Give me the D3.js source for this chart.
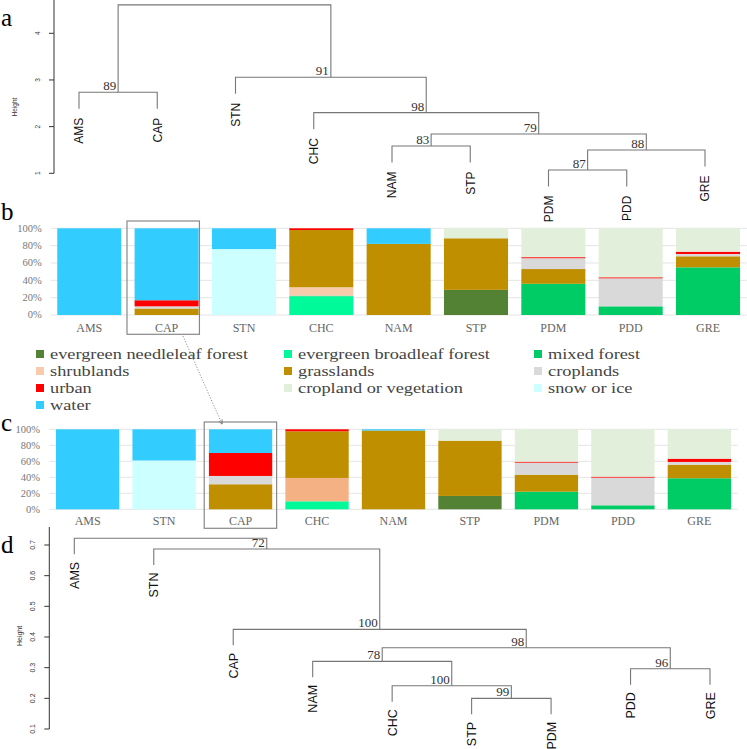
<!DOCTYPE html>
<html><head><meta charset="utf-8">
<script src="https://cdn.jsdelivr.net/npm/d3@7"></script>
<style>body{margin:0;background:#fff}svg{display:block}</style>
</head><body>
<svg id="chart" width="747" height="749"></svg>
<script>
// ---------------- DATA ----------------
const leavesA = ["AMS","CAP","STN","CHC","NAM","STP","PDM","PDD","GRE"];
// [left child, right child, height, bootstrap]; strings = leaves, numbers = earlier merge index
const mergesA = [
  ["PDM","PDD",1.07,"87"],
  [0,"GRE",1.50,"88"],
  ["NAM","STP",1.585,"83"],
  [2,1,1.842,"79"],
  ["CHC",3,2.30,"98"],
  ["AMS","CAP",2.736,"89"],
  ["STN",4,3.057,"91"],
  [5,6,4.61,null]
];
const ticksA = [1,2,3,4,5];

const leavesD = ["AMS","STN","CAP","NAM","CHC","STP","PDM","PDD","GRE"];
const mergesD = [
  ["STP","PDM",0.200,"99"],
  ["CHC",0,0.241,"100"],
  ["NAM",1,0.3206,"78"],
  ["PDD","GRE",0.2967,"96"],
  [2,3,0.365,"98"],
  ["CAP",4,0.425,"100"],
  ["STN",5,0.687,"72"],
  ["AMS",6,0.7218,null]
];
const ticksD = [0.1,0.2,0.3,0.4,0.5,0.6,0.7];

const classes = ["evergreen needleleaf forest","evergreen broadleaf forest","mixed forest",
  "shrublands","grasslands","croplands","urban","cropland or vegetation","snow or ice","water"];
const classColors = ["#548235","#00FA9A","#00CC66","#F8CBAD","#BF8F00","#D9D9D9","#FF0000","#E2EFDA","#CCFFFF","#33CCFF"];
const classColorsC = ["#548235","#00FA9A","#00CC66","#F4B183","#BF8F00","#D9D9D9","#FF0000","#E2EFDA","#CCFFFF","#33CCFF"];

const catsB = ["AMS","CAP","STN","CHC","NAM","STP","PDM","PDD","GRE"];
const compB = [
  [0,0,0,0,0,0,0,0,0,100],
  [0,0,0,0,7.5,2.5,7,0,0,83],
  [0,0,0,0,0,0,0,0,76,24],
  [0,21.5,0.8,9.7,66,0,2,0,0,0],
  [0,0,0,0,82,0,0,0,0,18],
  [29,0,0,0,59.5,0,0,11.5,0,0],
  [0,0,36,0,17,12.5,1.2,33.3,0,0],
  [0,0,10,0,0,32.3,1.2,56.5,0,0],
  [0,0,55,0,12.7,2.7,2.6,27,0,0]
];
const catsC = ["AMS","STN","CAP","CHC","NAM","STP","PDM","PDD","GRE"];
const compC = [
  [0,0,0,0,0,0,0,0,0,100],
  [0,0,0,0,0,0,0,0,61,39],
  [0,0,0,0,31.3,10.4,28.7,0,0,29.6],
  [0,10,0,29.2,58.3,0,2.5,0,0,0],
  [0,0,0,0,98.5,0,0,0,0,1.5],
  [16.7,0,0,0,69.1,0,0,14.2,0,0],
  [0,0,22,0,21.3,15,1.2,40.5,0,0],
  [0,0,5,0,0,34.6,1.2,59.2,0,0],
  [0,0,38.8,0,17,3.4,4.1,36.7,0,0]
];
const pctTicks = [0,20,40,60,80,100];
const highlight = "CAP";

// ---------------- DRAW ----------------
const svg = d3.select("#chart");
const SERIF = "Liberation Serif, Times New Roman, serif";
const SANS = "Liberation Sans, Arial, sans-serif";
const LINE = "#777";

function panelLetter(t, x, y) {
  svg.append("text").attr("x", x).attr("y", y).text(t)
    .attr("font-family", SERIF).attr("font-size", 25).attr("fill", "#000");
}

function drawDendro(leaves, merges, x, y, o) {
  const g = svg.append("g");
  const hs = merges.map(m => m[2]);
  const hang = 0.1 * (d3.max(hs) - d3.min(hs));
  const pos = [];
  const info = (c, h) => typeof c === "string"
    ? {x: x(c), b: h - hang, leaf: c}
    : {x: pos[c].x, b: merges[c][2]};
  merges.forEach((m, i) => {
    const h = m[2];
    const L = info(m[0], h), R = info(m[1], h);
    pos[i] = {x: (L.x + R.x) / 2};
    g.append("path")
      .attr("d", `M${L.x},${y(L.b)}V${y(h)}H${R.x}V${y(R.b)}`)
      .attr("fill", "none").attr("stroke", LINE).attr("stroke-width", 1.1);
    [L, R].forEach(c => {
      if (c.leaf) {
        g.append("text")
          .attr("transform", `translate(${c.x},${y(c.b) + o.gap}) rotate(-90)`)
          .attr("text-anchor", "end").attr("dy", "0.36em")
          .attr("font-family", SANS).attr("font-size", o.leafSize).attr("fill", "#111")
          .text(c.leaf);
      }
    });
    if (m[3]) {
      g.append("text").attr("x", pos[i].x - 2).attr("y", y(h) - 2)
        .attr("text-anchor", "end").attr("font-family", SERIF)
        .attr("font-size", o.bootSize).attr("fill", "#333").text(m[3]);
    }
  });
  // axis
  const ax = o.axisX;
  g.append("line").attr("x1", ax).attr("x2", ax)
    .attr("y1", y(o.ticks[0])).attr("y2", Math.max(y(o.axisTop), o.clipTop))
    .attr("stroke", "#333").attr("stroke-width", 1);
  o.ticks.forEach(t => {
    const yy = y(t);
    if (yy < o.clipTop) return;
    g.append("line").attr("x1", ax).attr("x2", ax - 5).attr("y1", yy).attr("y2", yy)
      .attr("stroke", "#333");
    g.append("text").attr("transform", `translate(${ax - 14},${yy}) rotate(-90)`)
      .attr("text-anchor", "middle").attr("font-family", SANS)
      .attr("font-size", o.tickSize).attr("fill", "#333").text(t);
  });
  g.append("text").attr("transform", `translate(${o.titleX},${o.titleY}) rotate(-90)`)
    .attr("text-anchor", "middle").attr("font-family", SANS)
    .attr("font-size", o.tickSize).attr("fill", "#333").text("Height");
}

// Panel a
const xA = d3.scalePoint().domain(leavesA).range([79, 705]);
const yA = d3.scaleLinear().domain([1, 4]).range([173.3, 33.3]);
drawDendro(leavesA, mergesA, xA, yA, {gap: 9, leafSize: 12, bootSize: 13, axisX: 54,
  ticks: ticksA, axisTop: 5, clipTop: 0, tickSize: 6.5, titleX: 17, titleY: 107});
panelLetter("a", 1, 26);

// Bar panels
function drawBars(cats, comp, colors, x0, x1, yTop, yBot, labelY, tickX, box) {
  const g = svg.append("g");
  const x = d3.scaleBand().domain(cats).range([x0, x1]).paddingInner(0.172).paddingOuter(0.086);
  const y = d3.scaleLinear().domain([0, 100]).range([yBot, yTop]);
  pctTicks.forEach(t => {
    g.append("line").attr("x1", x0).attr("x2", x1).attr("y1", y(t)).attr("y2", y(t))
      .attr("stroke", "#e4e4e4").attr("stroke-width", 1);
    g.append("text").attr("x", tickX).attr("y", y(t)).attr("dy", "0.33em")
      .attr("text-anchor", "end").attr("font-family", SERIF).attr("font-size", 10.5)
      .attr("fill", "#777").text(t + "%");
  });
  const rows = cats.map((c, i) => {
    const r = {cat: c};
    classes.forEach((k, j) => r[k] = comp[i][j]);
    return r;
  });
  const series = d3.stack().keys(classes)(rows);
  series.forEach((s, j) => {
    g.selectAll(null).data(s.filter(d => d[1] - d[0] > 0)).join("rect")
      .attr("x", d => x(d.data.cat)).attr("width", x.bandwidth())
      .attr("y", d => y(d[1])).attr("height", d => y(d[0]) - y(d[1]))
      .attr("fill", colors[j]);
  });
  cats.forEach(c => {
    g.append("text").attr("x", x(c) + x.bandwidth() / 2).attr("y", labelY)
      .attr("text-anchor", "middle").attr("font-family", SERIF).attr("font-size", 12)
      .attr("fill", "#666").text(c);
  });
  const bx = x(highlight);
  g.append("rect").attr("x", bx - box.l).attr("y", box.t)
    .attr("width", x.bandwidth() + box.l + box.r).attr("height", box.b - box.t)
    .attr("fill", "none").attr("stroke", "#888").attr("stroke-width", 1.2);
  return {x, y};
}
const B = drawBars(catsB, compB, classColors, 50.6, 746.7, 228.3, 315, 332, 41.7, {l: 7.6, r: 0.8, t: 221, b: 334.3});
panelLetter("b", 1, 220);

// Legend
const legCols = [36, 284, 534];
const legRows = [354, 371, 388, 405];
const legTexts = [];
classes.forEach((k, i) => {
  const cx = legCols[i % 3], cy = legRows[Math.floor(i / 3)];
  svg.append("rect").attr("x", cx).attr("y", cy - 4).attr("width", 8).attr("height", 8)
    .attr("fill", classColors[i]);
  legTexts.push(svg.append("text").attr("x", cx + 14).attr("y", cy).attr("dy", "0.32em")
    .attr("font-family", SERIF).attr("font-size", 14.5).attr("fill", "#444").text(k));
});
// condense/stretch legend glyphs so the first label spans ~198px as in the reference
const refLen = legTexts[0].node().getComputedTextLength();
const k = 198 / refLen;
legTexts.forEach(t => {
  const l = t.node().getComputedTextLength();
  t.attr("textLength", l * k).attr("lengthAdjust", "spacingAndGlyphs");
});

const C = drawBars(catsC, compC, classColorsC, 49.4, 737.6, 429.3, 509.3, 525, 40, {l: 4.7, r: 4.4, t: 422, b: 528.3});
panelLetter("c", 1, 431);

// Arrow between highlighted boxes
const defs = svg.append("defs");
defs.append("marker").attr("id", "arr").attr("viewBox", "0 0 10 10").attr("refX", 9).attr("refY", 5)
  .attr("markerWidth", 6).attr("markerHeight", 6).attr("orient", "auto")
  .append("path").attr("d", "M0,1L10,5L0,9").attr("fill", "none").attr("stroke", "#666").attr("stroke-width", 1.5);
svg.append("line").attr("x1", 183).attr("y1", 336).attr("x2", 222).attr("y2", 424)
  .attr("stroke", "#777").attr("stroke-width", 0.8).attr("stroke-dasharray", "1.2,1.6")
  .attr("marker-end", "url(#arr)");

// Panel d
const xD = d3.scalePoint().domain(leavesD).range([74.3, 710]);
const yD = d3.scaleLinear().domain([0.1, 0.7]).range([729, 545]);
drawDendro(leavesD, mergesD, xD, yD, {gap: 7.5, leafSize: 12.5, bootSize: 13, axisX: 49.3,
  ticks: ticksD, axisTop: 0.76, clipTop: 527, tickSize: 7, titleX: 22, titleY: 636});
panelLetter("d", 1, 553);
</script>
</body></html>
